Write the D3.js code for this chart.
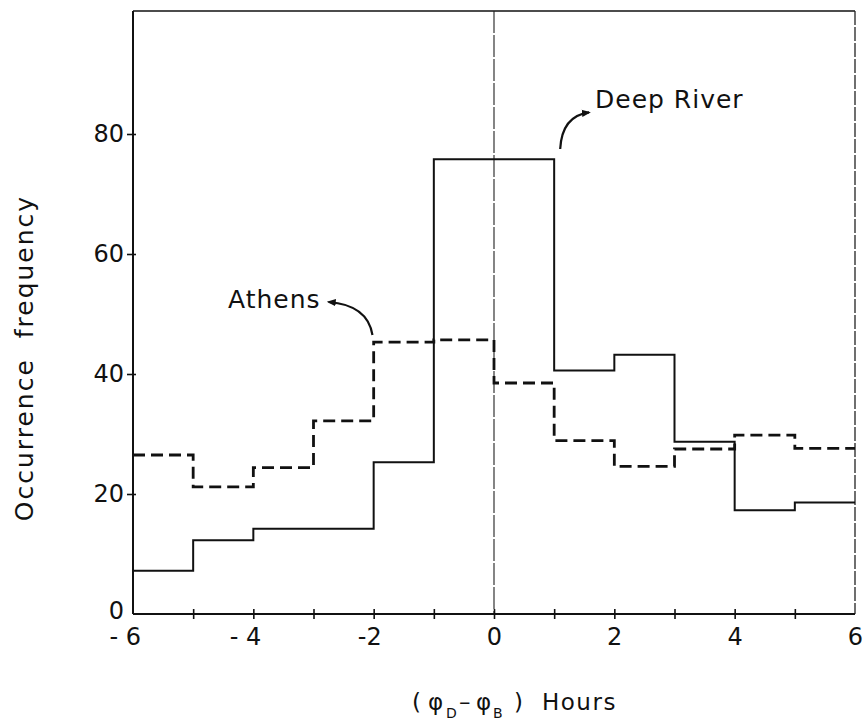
<!DOCTYPE html>
<html><head><meta charset="utf-8">
<script src="https://cdn.jsdelivr.net/npm/d3@7"></script>
<style>
body{margin:0;background:#fff;}
svg{display:block;font-family:"DejaVu Sans",sans-serif;}
</style></head><body>
<svg id="c" width="865" height="728"></svg>
<script>
// ---- data ----
const binEdges = [-6,-5,-4,-3,-2,-1,0,1,2,3,4,5,6];
const deepRiver = [7.2, 12.3, 14.2, 14.2, 25.3, 75.8, 75.8, 40.6, 43.2, 28.7, 17.3, 18.6];
const athens    = [26.5, 21.2, 24.4, 32.2, 45.3, 45.7, 38.5, 28.9, 24.6, 27.5, 29.8, 27.6];
const xTickValues = [-5,-4,-3,-2,-1,0,1,2,3,4,5];
const xTickLabels = {"-6":"- 6","-4":"- 4","-2":"-2","0":"0","2":"2","4":"4","6":"6"};
const yTickValues = [0,20,40,60,80];
const seriesNames = ["Deep River","Athens"];

const svg = d3.select("#c");
const x = d3.scaleLinear().domain([-6,6]).range([133,855]);
const y = d3.scaleLinear().domain([0,100.5]).range([614,11]);

// frame
svg.append("line").attr("x1",x(-6)).attr("x2",x(6)).attr("y1",y(100.5)).attr("y2",y(100.5))
  .attr("stroke","#111").attr("stroke-width",1.6);
svg.append("line").attr("x1",x(6)).attr("x2",x(6)).attr("y1",y(100.5)).attr("y2",y(0))
  .attr("stroke","#222").attr("stroke-width",1.3).attr("stroke-dasharray","14,2");
// zero line
svg.append("line").attr("x1",x(0)).attr("x2",x(0)).attr("y1",y(100.5)).attr("y2",y(0))
  .attr("stroke","#222").attr("stroke-width",1.1).attr("stroke-dasharray","22,2");

// x axis
const xAxis = d3.axisBottom(x).tickValues(xTickValues).tickSize(5).tickFormat(()=>"");
const gx = svg.append("g").attr("transform",`translate(0,${y(0)})`).call(xAxis);
gx.select(".domain").attr("d",`M${x(-6)},0H${x(6)}`).attr("stroke","#111").attr("stroke-width",2);
gx.selectAll(".tick line").attr("y1",-5).attr("y2",5).attr("stroke","#111").attr("stroke-width",1.6);
// x labels
const xl = svg.append("g").attr("font-size",24).attr("fill","#111");
[-6,-4,-2,0,2,4,6].forEach(v=>{
  xl.append("text").attr("x",x(v)+8).attr("y",y(0)+31).attr("text-anchor","end")
    .text(xTickLabels[String(v)]);
});

// y axis
const yAxis = d3.axisLeft(y).tickValues(yTickValues).tickSize(6).tickPadding(4);
const gy = svg.append("g").attr("transform",`translate(${x(-6)},0)`).call(yAxis);
gy.select(".domain").attr("d",`M0,${y(0)}V${y(100.5)}`).attr("stroke","#111").attr("stroke-width",2);
gy.selectAll(".tick line").attr("x1",-6).attr("x2",3).attr("stroke","#111").attr("stroke-width",1.6);
gy.selectAll(".tick text").attr("font-size",24).attr("font-family","DejaVu Sans").attr("fill","#111")
  .attr("x",-9);
gy.selectAll(".tick").filter(d=>d===0).select("line").remove();
gy.selectAll(".tick").filter(d=>d===0).select("text").attr("dy","0.2em");

// series
const stepLine = d3.line().x(d=>x(d[0])).y(d=>y(d[1])).curve(d3.curveStepAfter);
function pts(vals){ const p = vals.map((v,i)=>[binEdges[i],v]); p.push([6,vals[vals.length-1]]); return p; }
svg.append("path").attr("d",stepLine(pts(deepRiver))).attr("fill","none")
  .attr("stroke","#111").attr("stroke-width",2);
svg.append("path").attr("d",stepLine(pts(athens))).attr("fill","none")
  .attr("stroke","#111").attr("stroke-width",2.8).attr("stroke-dasharray","12,6");

// annotations
const defs = svg.append("defs");
defs.append("marker").attr("id","ah").attr("viewBox","0 0 10 10").attr("refX",8).attr("refY",5)
  .attr("markerWidth",9).attr("markerHeight",9).attr("markerUnits","userSpaceOnUse").attr("orient","auto")
  .append("path").attr("d","M0,1L10,5L0,9Z").attr("fill","#111");
const ann = svg.append("g").attr("font-size",25).attr("fill","#111").attr("letter-spacing",1);
ann.append("text").attr("x",595).attr("y",108).text(seriesNames[0]);
ann.append("text").attr("x",228).attr("y",308).text(seriesNames[1]);
svg.append("path").attr("d",`M${x(1.1)},${y(77.5)} Q${x(1.13)},${y(83)} ${x(1.58)},${y(83.6)}`)
  .attr("fill","none").attr("stroke","#111").attr("stroke-width",2.2).attr("marker-end","url(#ah)");
svg.append("path").attr("d",`M${x(-2.02)},${y(46.5)} Q${x(-2.1)},${y(51.5)} ${x(-2.75)},${y(52)}`)
  .attr("fill","none").attr("stroke","#111").attr("stroke-width",2.2).attr("marker-end","url(#ah)");

// axis titles
svg.append("text").attr("transform","translate(33,358) rotate(-90)").attr("text-anchor","middle")
  .attr("font-size",25).attr("letter-spacing",2).attr("word-spacing",10).attr("fill","#111")
  .text("Occurrence frequency");
const t = svg.append("text").attr("y",710).attr("font-size",23).attr("fill","#111");
t.append("tspan").attr("x",412).text("(");
t.append("tspan").attr("x",428).text("φ");
t.append("tspan").attr("x",446).attr("dy",8).attr("font-size",14).text("D");
t.append("tspan").attr("x",459).attr("dy",-8).text("–");
t.append("tspan").attr("x",476).text("φ");
t.append("tspan").attr("x",493).attr("dy",8).attr("font-size",14).text("B");
t.append("tspan").attr("x",514).attr("dy",-8).text(")");
t.append("tspan").attr("x",542).attr("letter-spacing",1.5).text("Hours");
</script></body></html>
